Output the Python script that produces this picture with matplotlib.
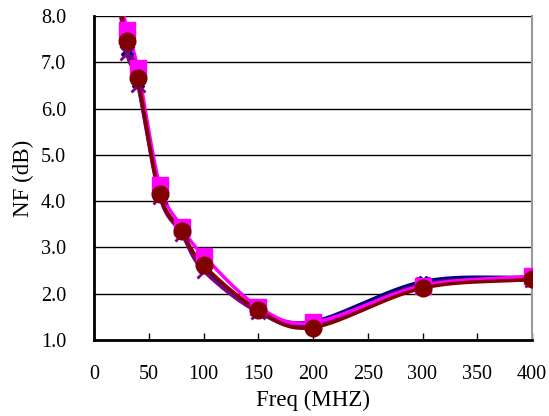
import numpy as np
import matplotlib.pyplot as plt

plt.rcParams['font.family'] = ['Liberation Serif', 'DejaVu Serif']

freq = [20, 30, 40, 60, 80, 100, 150, 200, 300, 400]
nf_navy = [8.8, 7.25, 6.55, 4.15, 3.35, 2.55, 1.65, 1.40, 2.26, 2.36]
nf_purple = [8.7, 7.2, 6.52, 4.1, 3.3, 2.5, 1.6, 1.32, 2.2, 2.3]
nf_magenta = [9.0, 7.7, 6.87, 4.35, 3.45, 2.82, 1.72, 1.38, 2.17, 2.38]
nf_darkred = [8.8, 7.47, 6.65, 4.15, 3.35, 2.62, 1.65, 1.27, 2.12, 2.31]


def smooth(x, y, n=30):
    # Catmull-Rom curve through the points, like Excel's smoothed line
    x = np.asarray(x, float)
    y = np.asarray(y, float)
    px = np.concatenate([[2 * x[0] - x[1]], x, [2 * x[-1] - x[-2]]])
    py = np.concatenate([[2 * y[0] - y[1]], y, [2 * y[-1] - y[-2]]])
    xs, ys = [], []
    t = np.linspace(0, 1, n)
    for i in range(1, len(px) - 2):
        for arr, out in ((px, xs), (py, ys)):
            p0, p1, p2, p3 = arr[i - 1], arr[i], arr[i + 1], arr[i + 2]
            out.extend(0.5 * (2 * p1 + (-p0 + p2) * t
                              + (2 * p0 - 5 * p1 + 4 * p2 - p3) * t ** 2
                              + (-p0 + 3 * p1 - 3 * p2 + p3) * t ** 3))
    return xs, ys


fig = plt.figure(figsize=(5.49, 4.16), dpi=100)
ax = fig.add_axes([94 / 549, 1 - 340 / 416, (532 - 94) / 549, (340 - 16) / 416])

series = [
    (nf_navy, '#000080', 'X', 9, 1),
    (nf_purple, '#800080', 'x', 10, 2),
    (nf_magenta, '#ff00ff', 's', 11, 1),
    (nf_darkred, '#800000', 'o', 12, 1),
]
for vals, col, mk, ms, mew in series:
    sx, sy = smooth(freq, vals)
    ax.plot(sx, sy, color=col, lw=2.5, zorder=3)
    ax.plot(freq, vals, linestyle='none', marker=mk, ms=ms, color=col,
            mec=col, mew=mew, zorder=4)

ax.set_xlim(0, 400)
ax.set_ylim(1.0, 8.0)
ax.set_xticks(np.arange(0, 401, 50))
ax.set_yticks(np.arange(1.0, 8.01, 1.0))
ax.yaxis.set_major_formatter(plt.FormatStrFormatter('%.1f'))
ax.grid(axis='y', color='black', lw=1)
ax.set_axisbelow(True)

ax.spines['top'].set_visible(False)
ax.spines['right'].set_color('#999999')
ax.spines['right'].set_linewidth(1.5)
ax.spines['left'].set_linewidth(2)
ax.spines['bottom'].set_linewidth(2)
ax.tick_params(axis='x', direction='in', length=5, width=1, labelsize=14.5, pad=18)
ax.tick_params(axis='y', direction='in', length=0, labelsize=14.5, pad=20)

ax.set_xlabel('Freq (MHZ)', fontsize=16.5, labelpad=4)
ax.set_ylabel('NF (dB)', fontsize=16.5, labelpad=5)

fig.savefig('out.png', dpi=100)
